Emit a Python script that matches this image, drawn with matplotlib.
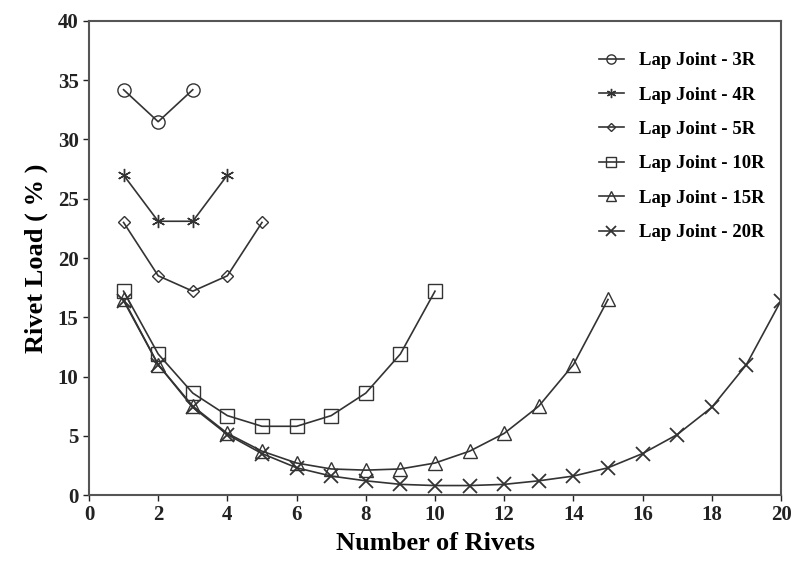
import matplotlib.pyplot as plt

# Rivet load distribution per joint type
lap_3r = [34.2, 31.5, 34.2]
lap_4r = [27.0, 23.1, 23.1, 27.0]
lap_5r = [23.0, 18.5, 17.2, 18.5, 23.0]
lap_10r = [17.2, 11.9, 8.6, 6.7, 5.8, 5.8, 6.7, 8.6, 11.9, 17.2]
lap_15r = [16.5, 11.0, 7.5, 5.2, 3.7, 2.7, 2.2, 2.1, 2.2, 2.7,
           3.7, 5.2, 7.5, 11.0, 16.5]
lap_20r = [16.4, 11.0, 7.4, 5.1, 3.5, 2.3, 1.6, 1.2, 0.9, 0.8,
           0.8, 0.9, 1.2, 1.6, 2.3, 3.5, 5.1, 7.4, 11.0, 16.4]

labels = ["Lap Joint - 3R", "Lap Joint - 4R", "Lap Joint - 5R",
          "Lap Joint - 10R", "Lap Joint - 15R", "Lap Joint - 20R"]
x_ticks = list(range(0, 21, 2))
y_ticks = list(range(0, 41, 5))

plt.rcParams['font.family'] = ['Liberation Serif', 'DejaVu Serif']
plt.rcParams['font.weight'] = 'bold'

fig = plt.figure(figsize=(7.98, 5.61), dpi=100)
ax = fig.add_axes([0.1115, 0.1176, 0.8672, 0.845])

line_col = "#333333"
styles = [
    dict(marker="o", ms=9.5),
    dict(marker=(6, 2, 0), ms=9.5),
    dict(marker="D", ms=6.5),
    dict(marker="s", ms=9.5),
    dict(marker="^", ms=9.5),
    dict(marker="x", ms=10, mew=1.3),
]

series = [lap_3r, lap_4r, lap_5r, lap_10r, lap_15r, lap_20r]
for data, lab, st in zip(series, labels, styles):
    xs = range(1, len(data) + 1)
    kw = dict(color=line_col, lw=1.2, mfc="none", mec=line_col, mew=1.0)
    kw.update(st)
    ax.plot(xs, data, label=lab, **kw)

ax.set_xlim(0, 20)
ax.set_ylim(0, 40)
ax.set_xticks(x_ticks)
ax.set_yticks(y_ticks)
ax.tick_params(direction="out", length=4, width=1, labelsize=15, colors="#222222")
for lbl in ax.get_xticklabels() + ax.get_yticklabels():
    lbl.set_fontweight("bold")
for sp in ax.spines.values():
    sp.set_color("#555555")
    sp.set_linewidth(1.5)

ax.set_xlabel("Number of Rivets", fontsize=19, fontweight="bold", labelpad=5)
ax.set_ylabel("Rivet Load ( % )", fontsize=19, fontweight="bold", labelpad=7)

leg = ax.legend(loc="upper right", frameon=False, fontsize=13.5, handlelength=1.3,
                handletextpad=0.8, labelspacing=0.92,
                bbox_to_anchor=(1.0, 0.97), markerscale=0.7)
for t in leg.get_texts():
    t.set_fontweight("bold")

fig.savefig("out.png", dpi=100)
